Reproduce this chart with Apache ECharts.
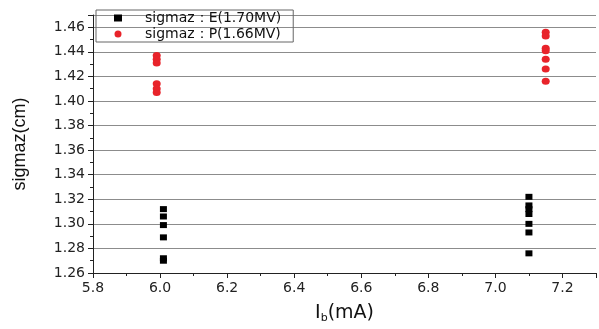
<!DOCTYPE html>
<html>
<head>
<meta charset="utf-8">
<script src="https://cdn.jsdelivr.net/npm/echarts@6/dist/echarts.min.js"></script>
<style>
  html, body { margin: 0; padding: 0; background: #fff; }
  #chart { width: 599px; height: 329px; }
</style>
</head>
<body>
<div id="chart"></div>
<script>
// values
const seriesNames = ['sigmaz：E(1.70MV)', 'sigmaz：P(1.66MV)'];
const eX = [6.01, 6.01, 6.01, 6.01, 6.01, 6.01, 7.1, 7.1, 7.1, 7.1, 7.1, 7.1, 7.1];
const eY = [1.312, 1.306, 1.299, 1.289, 1.272, 1.270, 1.322, 1.315, 1.312, 1.308, 1.300, 1.293, 1.276];
const pX = [5.99, 5.99, 5.99, 5.99, 5.99, 5.99, 7.15, 7.15, 7.15, 7.15, 7.15, 7.15, 7.15];
const pY = [1.437, 1.434, 1.431, 1.414, 1.410, 1.407, 1.456, 1.453, 1.443, 1.441, 1.434, 1.426, 1.416];

const wide = '"DejaVu Sans", Verdana, sans-serif';
const narrow = '"Liberation Sans", Arial, sans-serif';
const pairs = (xs, ys) => xs.map((x, i) => [x, ys[i]]);

const chart = echarts.init(document.getElementById('chart'));

chart.setOption({
  animation: false,
  backgroundColor: '#fff',
  grid: { left: 93, right: 0, top: 15, bottom: 51 },
  legend: {
    orient: 'vertical',
    left: 96,
    top: 10,
    padding: [1, 12, 1, 18],
    itemGap: 2,
    itemWidth: 8,
    itemHeight: 7,
    borderColor: '#666',
    borderWidth: 1,
    textStyle: { fontFamily: wide, fontSize: 14, color: '#111', padding: [0, 0, 0, 18] },
    data: [
      { name: seriesNames[0], icon: 'rect', itemStyle: { color: '#000' } },
      { name: seriesNames[1], icon: 'circle', itemStyle: { color: '#e8232a' } }
    ]
  },
  xAxis: {
    type: 'value',
    min: 5.8,
    max: 7.3,
    interval: 0.2,
    name: '{i|I}{s|b}{i|(mA)}',
    nameLocation: 'middle',
    nameGap: 30,
    nameTextStyle: {
      rich: {
        i: { fontFamily: wide, fontSize: 19, color: '#111' },
        s: { fontFamily: wide, fontSize: 11, color: '#111', verticalAlign: 'bottom', padding: [10, 0, 0, 0] }
      }
    },
    axisLine: { lineStyle: { color: '#222', width: 1 } },
    axisTick: { show: true, length: 5, lineStyle: { color: '#222' } },
    minorTick: { show: true, splitNumber: 2, length: 3, lineStyle: { color: '#222' } },
    axisLabel: {
      fontFamily: wide, fontSize: 14, color: '#222', margin: 8,
      formatter: v => (v > 7.25 ? '' : v.toFixed(1))
    },
    splitLine: { show: false }
  },
  yAxis: {
    type: 'value',
    min: 1.26,
    max: 1.47,
    interval: 0.02,
    name: 'sigmaz(cm)',
    nameLocation: 'middle',
    nameGap: 64,
    nameTextStyle: { fontFamily: narrow, fontSize: 18, color: '#111' },
    axisLine: { show: true, lineStyle: { color: '#222', width: 1 } },
    axisTick: { show: true, length: 5, lineStyle: { color: '#222' } },
    minorTick: { show: true, splitNumber: 2, length: 3, lineStyle: { color: '#222' } },
    axisLabel: {
      fontFamily: wide, fontSize: 14, color: '#222', margin: 8,
      formatter: v => (v > 1.465 ? '' : v.toFixed(2))
    },
    splitLine: { show: true, lineStyle: { color: '#8c8c8c', width: 1 } }
  },
  series: [
    {
      name: seriesNames[0],
      type: 'scatter',
      symbol: 'rect',
      symbolSize: [7, 6],
      itemStyle: { color: '#000', opacity: 1 },
      data: pairs(eX, eY)
    },
    {
      name: seriesNames[1],
      type: 'scatter',
      symbol: 'circle',
      symbolSize: [8, 7],
      itemStyle: { color: '#e8232a', opacity: 1 },
      data: pairs(pX, pY)
    }
  ]
});
</script>
</body>
</html>
